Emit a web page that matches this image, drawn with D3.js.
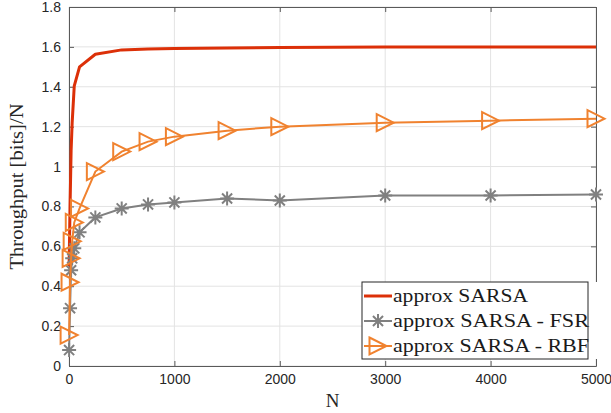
<!DOCTYPE html>
<html>
<head>
<meta charset="utf-8">
<script src="https://cdn.jsdelivr.net/npm/d3@7"></script>
<style>
  body { margin: 0; background: #fff; }
  .tick text { font-family: "Liberation Sans", Arial, sans-serif; font-size: 14px; fill: #262626; }
</style>
</head>
<body>
<svg id="chart" width="611" height="413"></svg>
<script>
// data
var N = [1, 10, 20, 30, 50, 100, 250, 500, 750, 1000, 1500, 2000, 3000, 4000, 5000];
var sarsa = [0.5, 0.8, 1.08, 1.22, 1.405, 1.5, 1.563, 1.585, 1.59, 1.592, 1.595, 1.597, 1.6, 1.6, 1.6];
var fsr = [0.08, 0.29, 0.48, 0.54, 0.59, 0.67, 0.745, 0.79, 0.81, 0.82, 0.84, 0.83, 0.855, 0.855, 0.86];
var rbf = [0.155, 0.42, 0.54, 0.625, 0.72, 0.79, 0.975, 1.075, 1.125, 1.15, 1.18, 1.2, 1.22, 1.23, 1.24];
var xTicks = [0, 1000, 2000, 3000, 4000, 5000];
var yTicks = [0, 0.2, 0.4, 0.6, 0.8, 1, 1.2, 1.4, 1.6, 1.8];
var names = ["approx SARSA", "approx SARSA - FSR", "approx SARSA - RBF"];

var red = "#dc3008", gray = "#808080", orange = "#f0822f";

var svg = d3.select("#chart");
var pl = 69, pr = 596, pt = 7, pb = 366;

var x = d3.scaleLinear().domain([0, 5000]).range([pl, pr]);
var y = d3.scaleLinear().domain([0, 1.8]).range([pb, pt]);

// grid
var grid = svg.append("g");
grid.selectAll(".gx").data(xTicks).enter().append("line")
    .attr("x1", d => x(d)).attr("x2", d => x(d))
    .attr("y1", pt).attr("y2", pb)
    .attr("stroke", "#e3e3e3").attr("stroke-width", 1);
grid.selectAll(".gy").data(yTicks).enter().append("line")
    .attr("x1", pl).attr("x2", pr)
    .attr("y1", d => y(d)).attr("y2", d => y(d))
    .attr("stroke", "#e3e3e3").attr("stroke-width", 1);

// axes, ticks point inwards
var axisColor = "#5a5a5a";
function styleAxis(g){
    g.select(".domain").attr("stroke", axisColor);
    g.selectAll(".tick line").attr("stroke", axisColor);
}
svg.append("g").attr("transform", "translate(0," + pb + ")")
    .call(d3.axisBottom(x).tickValues(xTicks).tickSize(-5).tickSizeOuter(0).tickPadding(8).tickFormat(d3.format("d")))
    .call(styleAxis);
svg.append("g").attr("transform", "translate(0," + pt + ")")
    .call(d3.axisTop(x).tickValues(xTicks).tickSize(-5).tickSizeOuter(0).tickFormat(""))
    .call(styleAxis);
svg.append("g").attr("transform", "translate(" + pl + ",0)")
    .call(d3.axisLeft(y).tickValues(yTicks).tickSize(-5).tickSizeOuter(0).tickPadding(8).tickFormat(d => d3.format("~g")(d)))
    .call(styleAxis);
svg.append("g").attr("transform", "translate(" + pr + ",0)")
    .call(d3.axisRight(y).tickValues(yTicks).tickSize(-5).tickSizeOuter(0).tickFormat(""))
    .call(styleAxis);

// marker shapes
function triangle(sel, cx, cy, h){
    sel.append("path")
        .attr("d", "M" + (cx - h) + "," + (cy - h) + "L" + (cx + h) + "," + cy + "L" + (cx - h) + "," + (cy + h) + "Z")
        .attr("fill", "none").attr("stroke", orange).attr("stroke-width", 2)
        .attr("stroke-linejoin", "miter");
}
function star(sel, cx, cy, r){
    var d = r * 0.72, p = "";
    p += "M" + (cx - r) + "," + cy + "L" + (cx + r) + "," + cy;
    p += "M" + cx + "," + (cy - r) + "L" + cx + "," + (cy + r);
    p += "M" + (cx - d) + "," + (cy - d) + "L" + (cx + d) + "," + (cy + d);
    p += "M" + (cx - d) + "," + (cy + d) + "L" + (cx + d) + "," + (cy - d);
    sel.append("path").attr("d", p).attr("stroke", gray).attr("stroke-width", 2).attr("fill", "none");
}

var line = d3.line().x(d => x(d[0])).y(d => y(d[1]));

svg.append("path").datum(d3.zip(N, sarsa)).attr("d", line)
    .attr("fill", "none").attr("stroke", red).attr("stroke-width", 3).attr("stroke-linejoin", "round");

svg.append("path").datum(d3.zip(N, fsr)).attr("d", line)
    .attr("fill", "none").attr("stroke", gray).attr("stroke-width", 2);
var gf = svg.append("g");
d3.zip(N, fsr).forEach(function(p){ star(gf, x(p[0]), y(p[1]), 7); });

svg.append("path").datum(d3.zip(N, rbf)).attr("d", line)
    .attr("fill", "none").attr("stroke", orange).attr("stroke-width", 2);
var gr = svg.append("g");
d3.zip(N, rbf).forEach(function(p){ triangle(gr, x(p[0]), y(p[1]), 8.5); });

// axis labels
svg.append("text").attr("x", (pl + pr) / 2).attr("y", 407)
    .attr("text-anchor", "middle")
    .style("font-family", "'Liberation Serif', serif").style("font-size", "19px").attr("fill", "#262626")
    .text("N");
svg.append("text").attr("transform", "translate(23," + ((pt + pb) / 2) + ") rotate(-90)")
    .attr("text-anchor", "middle")
    .style("font-family", "'Liberation Serif', serif").style("font-size", "19px").attr("fill", "#262626")
    .attr("textLength", 166).attr("lengthAdjust", "spacingAndGlyphs")
    .text("Throughput [bits]/N");

// legend
var lg = svg.append("g");
lg.append("rect").attr("x", 362).attr("y", 282).attr("width", 235).attr("height", 77).attr("fill", "#fff");
lg.append("rect").attr("x", 362).attr("y", 282).attr("width", 226).attr("height", 77)
    .attr("fill", "none").attr("stroke", "#262626").attr("stroke-width", 1);
var rowY = [296, 321, 346];
lg.append("line").attr("x1", 364).attr("x2", 392).attr("y1", rowY[0]).attr("y2", rowY[0])
    .attr("stroke", red).attr("stroke-width", 3);
lg.append("line").attr("x1", 364).attr("x2", 392).attr("y1", rowY[1]).attr("y2", rowY[1])
    .attr("stroke", gray).attr("stroke-width", 2);
star(lg, 378, rowY[1], 7);
lg.append("line").attr("x1", 364).attr("x2", 392).attr("y1", rowY[2]).attr("y2", rowY[2])
    .attr("stroke", orange).attr("stroke-width", 2);
triangle(lg, 378, rowY[2], 8.5);
var widths = [135, 196, 196];
names.forEach(function(n, i){
    lg.append("text").attr("x", 393).attr("y", rowY[i] + 6)
        .style("font-family", "'Liberation Serif', serif").style("font-size", "19px").attr("fill", "#1a1a1a")
        .attr("textLength", widths[i]).attr("lengthAdjust", "spacingAndGlyphs")
        .text(n);
});
</script>
</body>
</html>
